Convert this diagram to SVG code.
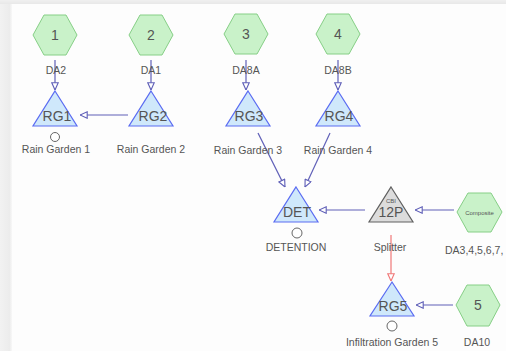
<svg xmlns="http://www.w3.org/2000/svg" width="506" height="351" viewBox="0 0 506 351">
<defs>
<style>
.hex{fill:#c9f2c9;stroke:#86cf86;stroke-width:1}
.tri{fill:#cfe8fb;stroke:#5b6cf2;stroke-width:1.2}
.spl{fill:#dcdcdc;stroke:#606060;stroke-width:1.2}
.ring{fill:#fff;stroke:#666;stroke-width:1}
.num{font-family:"Liberation Sans",Arial,sans-serif;font-size:14px;fill:#555;text-anchor:middle}
.in{font-family:"Liberation Sans",Arial,sans-serif;font-size:14px;fill:#555;text-anchor:middle}
.lbl{font-family:"Liberation Sans",Arial,sans-serif;font-size:10.5px;fill:#555;text-anchor:middle}
.sm{font-family:"Liberation Sans",Arial,sans-serif;font-size:6px;fill:#555;text-anchor:middle}
.c{stroke:#6060b8;stroke-width:1.2;fill:none;marker-end:url(#ah)}
.r{stroke:#f07878;stroke-width:1.2;fill:none;marker-end:url(#ahr)}
</style>
<marker id="ah" viewBox="0 0 10 10" refX="10" refY="5" markerWidth="8" markerHeight="8" markerUnits="userSpaceOnUse" orient="auto">
<path d="M1,1 L10,5 L1,9 Z" fill="#fff" stroke="#6060b8" stroke-width="1.4"/>
</marker>
<marker id="ahr" viewBox="0 0 10 10" refX="10" refY="5" markerWidth="8" markerHeight="8" markerUnits="userSpaceOnUse" orient="auto">
<path d="M1,1 L10,5 L1,9 Z" fill="#fff" stroke="#f07878" stroke-width="1.4"/>
</marker>
<linearGradient id="lg" x1="0" x2="1" y1="0" y2="0"><stop offset="0" stop-color="#f2f2f2"/><stop offset="0.8" stop-color="#ececec"/><stop offset="1" stop-color="#f8f8f8"/></linearGradient>
<linearGradient id="tg" x1="0" x2="0" y1="0" y2="1"><stop offset="0" stop-color="#f0f0f0"/><stop offset="1" stop-color="#e8e8e8"/></linearGradient>
</defs>
<rect x="0" y="0" width="506" height="351" fill="#fdfdfd"/>
<rect x="0" y="0" width="12" height="351" fill="url(#lg)"/>
<rect x="0" y="0" width="506" height="4" fill="url(#tg)"/>

<g id="connectors">
<line class="c" x1="55" y1="60" x2="55" y2="90"/>
<line class="c" x1="151" y1="60" x2="151" y2="90"/>
<line class="c" x1="246" y1="60" x2="246" y2="90"/>
<line class="c" x1="338" y1="60" x2="338" y2="90"/>
<line class="c" x1="128" y1="115" x2="80" y2="115"/>
<line class="c" x1="258" y1="133" x2="285" y2="187"/>
<line class="c" x1="330" y1="133" x2="305" y2="187"/>
<line class="c" x1="365" y1="210" x2="319" y2="210"/>
<line class="c" x1="454" y1="210" x2="415" y2="210"/>
<line class="r" x1="391" y1="235" x2="391" y2="281"/>
<line class="c" x1="453" y1="305" x2="416" y2="305"/>
</g>

<g id="sub1"><polygon class="hex" points="33,35 44,15 66,15 77,35 66,55 44,55"/><text class="num" x="55" y="40">1</text><text class="lbl" x="56" y="74">DA2</text></g>
<g id="sub2"><polygon class="hex" points="129,35 140,15 162,15 173,35 162,55 140,55"/><text class="num" x="151" y="40">2</text><text class="lbl" x="151" y="74">DA1</text></g>
<g id="sub3"><polygon class="hex" points="224,34 235,14 257,14 268,34 257,54 235,54"/><text class="num" x="246" y="39">3</text><text class="lbl" x="246" y="74">DA8A</text></g>
<g id="sub4"><polygon class="hex" points="316,34 327,14 349,14 360,34 349,54 327,54"/><text class="num" x="338" y="39">4</text><text class="lbl" x="338" y="74">DA8B</text></g>

<g id="RG1"><polygon class="tri" points="55,91 77,126 33,126"/><text class="in" x="57" y="121">RG1</text><circle class="ring" cx="55" cy="137" r="4.5"/><text class="lbl" x="56" y="153">Rain Garden 1</text></g>
<g id="RG2"><polygon class="tri" points="151,91 173,126 129,126"/><text class="in" x="153" y="121">RG2</text><text class="lbl" x="151" y="153">Rain Garden 2</text></g>
<g id="RG3"><polygon class="tri" points="248,91 270,126 226,126"/><text class="in" x="249" y="121">RG3</text><text class="lbl" x="248" y="154">Rain Garden 3</text></g>
<g id="RG4"><polygon class="tri" points="338,91 360,126 316,126"/><text class="in" x="339" y="121">RG4</text><text class="lbl" x="338" y="154">Rain Garden 4</text></g>

<g id="DET"><polygon class="tri" points="296,187 318,222 274,222"/><text class="in" x="297" y="217">DET</text><circle class="ring" cx="297" cy="233" r="5"/><text class="lbl" x="296" y="251">DETENTION</text></g>
<g id="splitter"><polygon class="spl" points="391,187 413,222 369,222"/><text class="sm" x="391" y="203">CBI</text><text class="in" x="391" y="217">12P</text><text class="lbl" x="390" y="251">Splitter</text></g>
<g id="composite"><polygon class="hex" points="457,212 468,193 491,193 502,212 491,232 468,232"/><text class="sm" x="479.5" y="214.5">Composite</text><text class="lbl" x="445" y="254" style="text-anchor:start">DA3,4,5,6,7,</text></g>
<g id="RG5"><polygon class="tri" points="392,282 414,316 370,316"/><text class="in" x="393" y="311">RG5</text><circle class="ring" cx="392" cy="326" r="5"/><text class="lbl" x="392" y="346">Infiltration Garden 5</text></g>
<g id="sub5"><polygon class="hex" points="456,305 467,285 489,285 500,305 489,326 467,326"/><text class="num" x="478" y="310">5</text><text class="lbl" x="477" y="346">DA10</text></g>
</svg>
